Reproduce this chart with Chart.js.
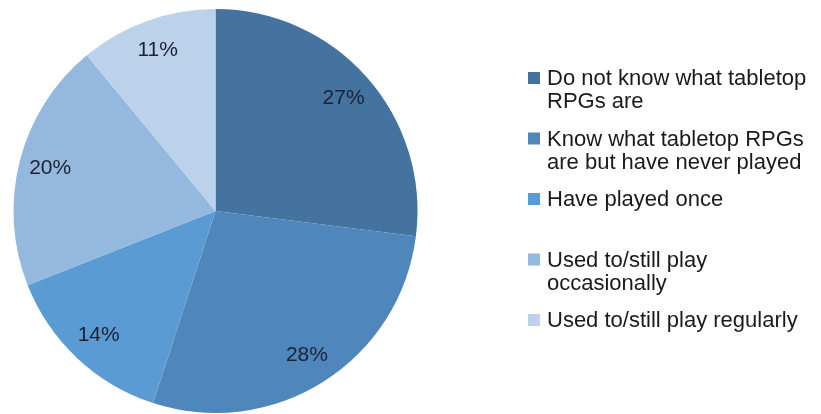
<!DOCTYPE html>
<html>
<head>
<meta charset="utf-8">
<script src="https://cdn.jsdelivr.net/npm/chart.js@4.4.1/dist/chart.umd.min.js"></script>
<style>
  html, body { margin: 0; padding: 0; background: #fff; }
  #wrap { width: 821px; height: 414px; position: relative; }
</style>
</head>
<body>
<div id="wrap"><canvas id="grafico"></canvas></div>
<script>
const categorias = [
    ["Do not know what tabletop", "RPGs are"],
    ["Know what tabletop RPGs", "are but have never played"],
    ["Have played once"],
    ["Used to/still play", "occasionally"],
    ["Used to/still play regularly"]
];
const porcentajes = [27, 28, 14, 20, 11];
const colores = ["#44739f", "#4f86bc", "#5a9bd4", "#95b8de", "#bcd1ea"];

// etiquetas de porcentaje dentro de cada porción
const etiquetasPie = {
    id: "etiquetasPie",
    afterDatasetsDraw(chart) {
        const ctx = chart.ctx;
        const meta = chart.getDatasetMeta(0);
        ctx.save();
        ctx.font = "21px 'Liberation Sans', Arial, sans-serif";
        ctx.fillStyle = "#1b2233";
        ctx.textAlign = "center";
        ctx.textBaseline = "middle";
        meta.data.forEach((arc, i) => {
            const p = arc.getProps(["x", "y", "startAngle", "endAngle", "outerRadius"], true);
            const ang = (p.startAngle + p.endAngle) / 2;
            const r = p.outerRadius * 0.845;
            ctx.fillText(porcentajes[i] + "%", p.x + Math.cos(ang) * r, p.y + Math.sin(ang) * r);
        });
        ctx.restore();
    }
};

// leyenda a la derecha, un hueco fijo por elemento
const leyenda = {
    id: "leyenda",
    afterDraw(chart) {
        const ctx = chart.ctx;
        const x0 = 528, y0 = 79, paso = 60.5, alto = 23;
        ctx.save();
        ctx.font = "22px 'Liberation Sans', Arial, sans-serif";
        ctx.textBaseline = "middle";
        categorias.forEach((lineas, i) => {
            const y = y0 + i * paso;
            ctx.fillStyle = colores[i];
            ctx.fillRect(x0, y - 7, 12, 12);
            ctx.fillStyle = "#1a1a1a";
            lineas.forEach((t, j) => ctx.fillText(t, x0 + 19, y + j * alto));
        });
        ctx.restore();
    }
};

new Chart(document.getElementById("grafico"), {
    type: "pie",
    data: {
        labels: categorias.map(c => c.join(" ")),
        datasets: [{
            data: porcentajes,
            backgroundColor: colores,
            borderWidth: 0
        }]
    },
    options: {
        responsive: true,
        maintainAspectRatio: false,
        animation: false,
        layout: { padding: { left: 12, top: 9, right: 402, bottom: 1 } },
        plugins: {
            legend: { display: false },
            tooltip: { enabled: false }
        }
    },
    plugins: [etiquetasPie, leyenda]
});
</script>
</body>
</html>
